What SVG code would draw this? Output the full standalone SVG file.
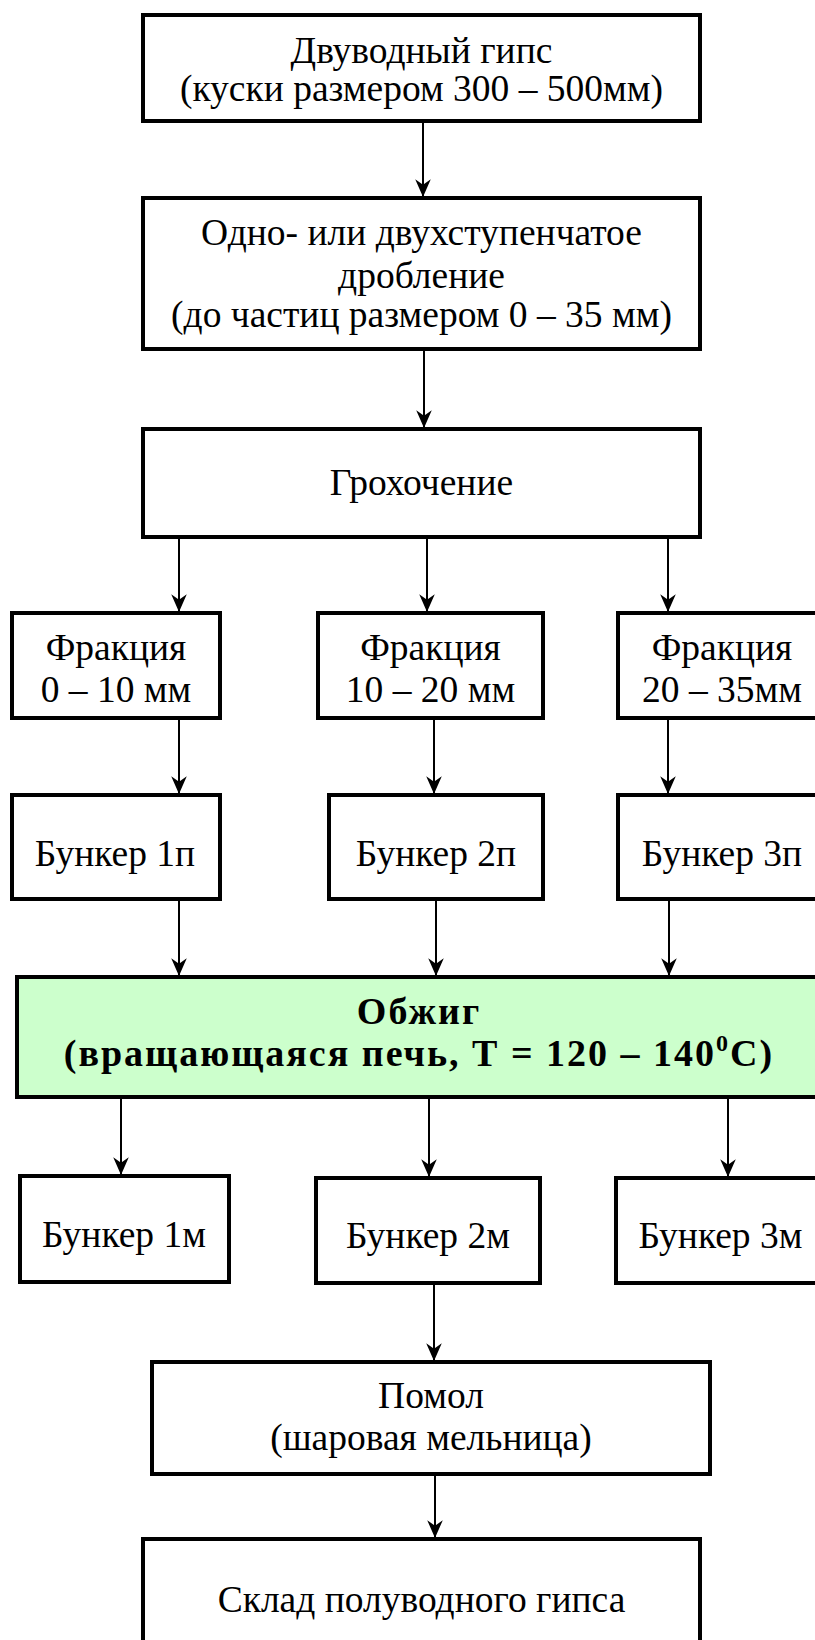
<svg xmlns="http://www.w3.org/2000/svg" width="815" height="1640" viewBox="0 0 815 1640">
  <defs>
    <marker id="arrow" markerWidth="20" markerHeight="20" refX="0" refY="0" viewBox="-17 -9 18 18" orient="auto" markerUnits="userSpaceOnUse">
      <path d="M0,0 L-16,-7 L-11,0 L-16,7 Z" fill="#000"/>
    </marker>
  </defs>
  <style>
    .box { fill: #fff; stroke: #000; stroke-width: 4; }
    .hot { fill: #ccffcc; stroke: #000; stroke-width: 4; }
    .t { font-family: "Liberation Serif", "Times New Roman", serif; font-size: 37.5px; fill: #000; text-anchor: middle; }
    .b { font-family: "Liberation Serif", "Times New Roman", serif; font-size: 38px; font-weight: bold; letter-spacing: 2px; fill: #000; text-anchor: middle; }
    .link { stroke: #000; stroke-width: 2; fill: none; marker-end: url(#arrow); }
  </style>
  <rect width="815" height="1640" fill="#fff"/>

  <g id="connectors">
    <line class="link" x1="423" y1="121" x2="423" y2="197"/>
    <line class="link" x1="424" y1="349" x2="424" y2="428"/>
    <line class="link" x1="179" y1="537" x2="179" y2="612"/>
    <line class="link" x1="427" y1="537" x2="427" y2="612"/>
    <line class="link" x1="668" y1="537" x2="668" y2="612"/>
    <line class="link" x1="179" y1="718" x2="179" y2="794"/>
    <line class="link" x1="434" y1="718" x2="434" y2="794"/>
    <line class="link" x1="668" y1="718" x2="668" y2="794"/>
    <line class="link" x1="179" y1="899" x2="179" y2="976"/>
    <line class="link" x1="436" y1="899" x2="436" y2="976"/>
    <line class="link" x1="669" y1="899" x2="669" y2="976"/>
    <line class="link" x1="121" y1="1097" x2="121" y2="1175"/>
    <line class="link" x1="429" y1="1097" x2="429" y2="1177"/>
    <line class="link" x1="728" y1="1097" x2="728" y2="1177"/>
    <line class="link" x1="434" y1="1283" x2="434" y2="1361"/>
    <line class="link" x1="435" y1="1474" x2="435" y2="1538"/>
  </g>

  <g id="raw-gypsum">
    <rect class="box" x="143" y="15" width="557" height="106"/>
    <text class="t" x="421.5" y="63">Двуводный гипс</text>
    <text class="t" x="421.5" y="101">(куски размером 300 – 500мм)</text>
  </g>

  <g id="crushing">
    <rect class="box" x="143" y="198" width="557" height="151"/>
    <text class="t" x="421.5" y="245">Одно- или двухступенчатое</text>
    <text class="t" x="421.5" y="288">дробление</text>
    <text class="t" x="421.5" y="327">(до частиц размером 0 – 35 мм)</text>
  </g>

  <g id="screening">
    <rect class="box" x="143" y="429" width="557" height="108"/>
    <text class="t" x="421.5" y="495">Грохочение</text>
  </g>

  <g id="fraction-1">
    <rect class="box" x="12" y="613" width="208" height="105"/>
    <text class="t" x="116" y="660">Фракция</text>
    <text class="t" x="116" y="702">0 – 10 мм</text>
  </g>
  <g id="fraction-2">
    <rect class="box" x="318" y="613" width="225" height="105"/>
    <text class="t" x="430.5" y="660">Фракция</text>
    <text class="t" x="430.5" y="702">10 – 20 мм</text>
  </g>
  <g id="fraction-3">
    <rect class="box" x="618" y="613" width="210" height="105"/>
    <text class="t" x="722" y="660">Фракция</text>
    <text class="t" x="722" y="702">20 – 35мм</text>
  </g>

  <g id="bunker-1p">
    <rect class="box" x="12" y="795" width="208" height="104"/>
    <text class="t" x="115" y="866">Бункер 1п</text>
  </g>
  <g id="bunker-2p">
    <rect class="box" x="329" y="795" width="214" height="104"/>
    <text class="t" x="436" y="866">Бункер 2п</text>
  </g>
  <g id="bunker-3p">
    <rect class="box" x="618" y="795" width="210" height="104"/>
    <text class="t" x="722" y="866">Бункер 3п</text>
  </g>

  <g id="firing">
    <rect class="hot" x="17" y="977" width="820" height="120"/>
    <text class="b" x="419" y="1024">Обжиг</text>
    <text class="b" x="419" y="1066">(вращающаяся печь, Т = 120 – 140<tspan font-size="24" dy="-15">0</tspan><tspan dy="15">С)</tspan></text>
  </g>

  <g id="bunker-1m">
    <rect class="box" x="20" y="1176" width="209" height="106"/>
    <text class="t" x="124" y="1247">Бункер 1м</text>
  </g>
  <g id="bunker-2m">
    <rect class="box" x="316" y="1178" width="224" height="105"/>
    <text class="t" x="428" y="1248">Бункер 2м</text>
  </g>
  <g id="bunker-3m">
    <rect class="box" x="616" y="1178" width="220" height="105"/>
    <text class="t" x="720.5" y="1248">Бункер 3м</text>
  </g>

  <g id="milling">
    <rect class="box" x="152" y="1362" width="558" height="112"/>
    <text class="t" x="431" y="1408">Помол</text>
    <text class="t" x="431" y="1450">(шаровая мельница)</text>
  </g>

  <g id="storage">
    <rect class="box" x="143" y="1539" width="557" height="130"/>
    <text class="t" x="421.5" y="1612">Склад полуводного гипса</text>
  </g>
</svg>
